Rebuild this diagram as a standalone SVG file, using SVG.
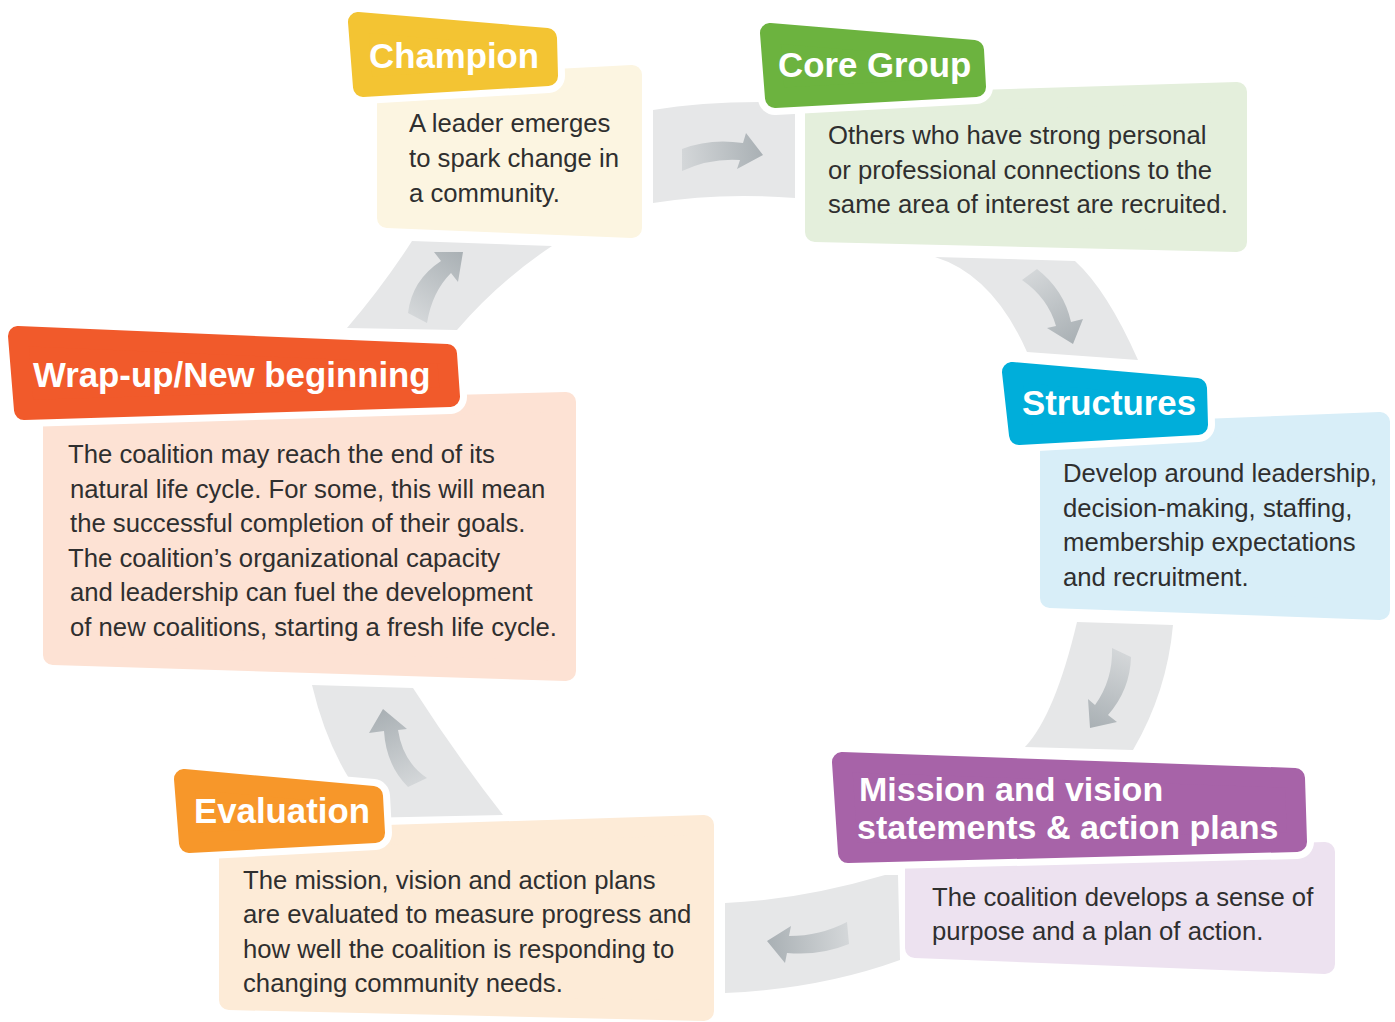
<svg xmlns="http://www.w3.org/2000/svg" width="1395" height="1022" viewBox="0 0 1395 1022">
  <style>
    .panel { fill: #E6E7E8; }
    .shape { fill: currentColor; stroke: currentColor; stroke-width: 20; stroke-linejoin: round; }
    .halo { fill: #FFFFFF; stroke: #FFFFFF; stroke-width: 34; stroke-linejoin: round; }
    .title { font-family: "Liberation Sans", Arial, sans-serif; font-weight: bold; font-size: 34.8px; fill: #FFFFFF; }
    .title2 { font-size: 34px; }
    .desc { font-family: "Liberation Sans", Arial, sans-serif; font-size: 25.7px; fill: #2F2F2F; }
  </style>
  <defs>
    <linearGradient id="g1" gradientUnits="userSpaceOnUse" x1="682" y1="160" x2="763" y2="152"><stop offset="0" stop-color="#D4D7D9"/><stop offset="1" stop-color="#A9B0B4"/></linearGradient>
    <linearGradient id="g2" gradientUnits="userSpaceOnUse" x1="1028" y1="274" x2="1073" y2="344"><stop offset="0" stop-color="#D4D7D9"/><stop offset="1" stop-color="#A9B0B4"/></linearGradient>
    <linearGradient id="g3" gradientUnits="userSpaceOnUse" x1="1122" y1="652" x2="1090" y2="728"><stop offset="0" stop-color="#D4D7D9"/><stop offset="1" stop-color="#A9B0B4"/></linearGradient>
    <linearGradient id="g4" gradientUnits="userSpaceOnUse" x1="848" y1="933" x2="767" y2="941"><stop offset="0" stop-color="#D4D7D9"/><stop offset="1" stop-color="#A9B0B4"/></linearGradient>
    <linearGradient id="g5" gradientUnits="userSpaceOnUse" x1="418" y1="783" x2="383" y2="709"><stop offset="0" stop-color="#D4D7D9"/><stop offset="1" stop-color="#A9B0B4"/></linearGradient>
    <linearGradient id="g6" gradientUnits="userSpaceOnUse" x1="417" y1="318" x2="463" y2="252"><stop offset="0" stop-color="#D4D7D9"/><stop offset="1" stop-color="#A9B0B4"/></linearGradient>
  </defs>

  <rect width="1395" height="1022" fill="#FFFFFF"/>

  <!-- connectors: curved grey ring segments with a bent arrow on each -->
  <g id="connectors">
    <path class="panel" d="M653,110 Q700,102 760,102 L795,100 L795,198 Q720,192 653,203 Z"/>
    <path fill="url(#g1)" d="M682,149 Q710,138 743,143 L746,133 L763,155 L737,169 L740,160 Q710,158 682,171 Z"/>

    <path class="panel" d="M935,257 L1075,261 Q1107,290 1138,360 L1027,352 Q993,275 935,257 Z"/>
    <path fill="url(#g2)" d="M1022,280 L1037,269 Q1064,290 1071,322 L1083,319 L1073,344 L1047,328 L1056,326 Q1048,298 1022,280 Z"/>

    <path class="panel" d="M1077,622 L1173,625 Q1167,692 1133,750 L1025,747 Q1055,715 1077,622 Z"/>
    <path fill="url(#g3)" d="M1112,648 L1131,657 Q1130,690 1108,715 L1117,722 L1090,728 L1088,699 L1095,705 Q1113,680 1112,648 Z"/>

    <path class="panel" d="M725,903 Q800,900 885,875 L898,875 L900,960 Q820,989 725,993 Z"/>
    <path fill="url(#g4)" d="M767,941 L791,926 L789,936 Q820,936 847,922 L849,944 Q820,956 787,953 L785,963 Z"/>

    <path class="panel" d="M312,685 L413,688 Q456,755 503,815 L360,818 L350,780 Q325,740 312,685 Z"/>
    <path fill="url(#g5)" d="M383,709 L407,729 L398,730 Q403,762 427,778 L408,787 Q386,765 384,731 L369,733 Z"/>

    <path class="panel" d="M412,241 L552,246 Q498,282 457,330 L347,328 Q383,286 412,241 Z"/>
    <path fill="url(#g6)" d="M408,313 Q412,280 441,261 L434,252 L463,252 L458,282 L451,273 Q432,292 427,323 Z"/>
  </g>

  <!-- Champion -->
  <g id="champion">
    <polygon class="shape" style="color:#FCF5E1" points="387,88 632,75 632,228 387,218"/>
    <polygon class="halo" points="358,22 547,38 548,76 363,87"/>
    <polygon class="shape" style="color:#F3C433" points="358,22 547,38 548,76 363,87"/>
    <text class="title" x="369" y="68">Champion</text>
    <text class="desc" x="409" y="132">A leader emerges</text>
    <text class="desc" x="409" y="167">to spark change in</text>
    <text class="desc" x="409" y="202">a community.</text>
  </g>

  <!-- Core Group -->
  <g id="core-group">
    <polygon class="shape" style="color:#E4EFDC" points="815,105 1237,92 1237,242 815,232"/>
    <polygon class="halo" points="770,33 974,50 976,87 775,98"/>
    <polygon class="shape" style="color:#6CB33F" points="770,33 974,50 976,87 775,98"/>
    <text class="title" x="778" y="77">Core Group</text>
    <text class="desc" x="828" y="144">Others who have strong personal</text>
    <text class="desc" x="828" y="179">or professional connections to the</text>
    <text class="desc" x="828" y="213">same area of interest are recruited.</text>
  </g>

  <!-- Structures -->
  <g id="structures">
    <polygon class="shape" style="color:#D8EEF8" points="1050,435 1380,422 1380,610 1050,598"/>
    <polygon class="halo" points="1012,372 1197,388 1198,425 1019,435"/>
    <polygon class="shape" style="color:#00AEDA" points="1012,372 1197,388 1198,425 1019,435"/>
    <text class="title" x="1022" y="415">Structures</text>
    <text class="desc" x="1063" y="482">Develop around leadership,</text>
    <text class="desc" x="1063" y="517">decision-making, staffing,</text>
    <text class="desc" x="1063" y="551">membership expectations</text>
    <text class="desc" x="1063" y="586">and recruitment.</text>
  </g>

  <!-- Mission and vision statements & action plans -->
  <g id="mission">
    <polygon class="shape" style="color:#EDE2F0" points="915,865 1325,852 1325,964 915,948"/>
    <polygon class="halo" points="842,762 1295,778 1297,842 848,853"/>
    <polygon class="shape" style="color:#A763A8" points="842,762 1295,778 1297,842 848,853"/>
    <text class="title title2" x="859" y="801">Mission and vision</text>
    <text class="title title2" x="857" y="839">statements &amp; action plans</text>
    <text class="desc" x="932" y="906">The coalition develops a sense of</text>
    <text class="desc" x="932" y="940">purpose and a plan of action.</text>
  </g>

  <!-- Evaluation -->
  <g id="evaluation">
    <polygon class="shape" style="color:#FDEBD7" points="229,840 704,825 704,1011 229,1000"/>
    <polygon class="halo" points="184,779 373,796 375,833 189,843"/>
    <polygon class="shape" style="color:#F7972A" points="184,779 373,796 375,833 189,843"/>
    <text class="title" x="194" y="823">Evaluation</text>
    <text class="desc" x="243" y="889">The mission, vision and action plans</text>
    <text class="desc" x="243" y="923">are evaluated to measure progress and</text>
    <text class="desc" x="243" y="958">how well the coalition is responding to</text>
    <text class="desc" x="243" y="992">changing community needs.</text>
  </g>

  <!-- Wrap-up/New beginning -->
  <g id="wrap-up">
    <polygon class="shape" style="color:#FDE2D4" points="53,415 566,402 566,671 53,655"/>
    <polygon class="halo" points="18,336 447,354 450,397 24,410"/>
    <polygon class="shape" style="color:#F15A2B" points="18,336 447,354 450,397 24,410"/>
    <text class="title" x="33" y="387">Wrap-up/New beginning</text>
    <text class="desc" x="68" y="463">The coalition may reach the end of its</text>
    <text class="desc" x="70" y="498">natural life cycle. For some, this will mean</text>
    <text class="desc" x="70" y="532">the successful completion of their goals.</text>
    <text class="desc" x="68" y="567">The coalition’s organizational capacity</text>
    <text class="desc" x="70" y="601">and leadership can fuel the development</text>
    <text class="desc" x="70" y="636">of new coalitions, starting a fresh life cycle.</text>
  </g>
</svg>
